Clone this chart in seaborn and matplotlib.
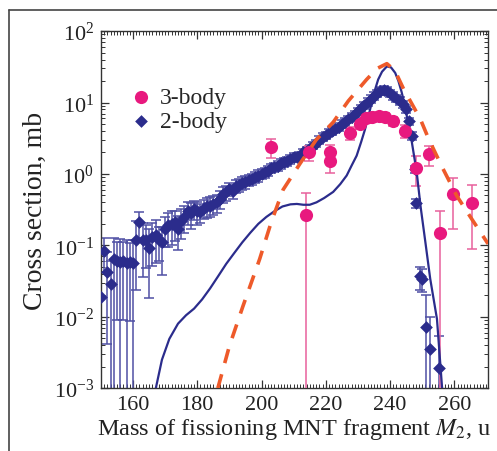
import numpy as np
import pandas as pd
import matplotlib
matplotlib.use("Agg")
import matplotlib.pyplot as plt
import seaborn as sns
from matplotlib.lines import Line2D
from matplotlib.ticker import LogLocator, MultipleLocator, NullFormatter

# ---------------- data ----------------
# 3-body (pink circles)
m3 = [203.0, 213.8, 214.8, 221.2, 221.2, 227.5, 230.5, 232.5, 234.5, 236.5, 238.5, 241.0, 244.6,
      248.2, 252.0, 255.4, 259.7, 265.5]
v3 = [2.35, 0.27, 2.0, 2.0, 1.53, 3.8, 5.0, 6.0, 6.3, 6.5, 6.2, 5.5, 4.0,
      1.23, 1.9, 0.15, 0.52, 0.39]
e3 = [0.7, 0.27, 0.5, 0.55, 0.5, 0.8, 0.8, 0.9, 0.9, 0.9, 0.9, 0.8, 0.8,
      0.55, 0.6, 0.15, 0.35, 0.3]

# 2-body (navy diamonds)
m2 = [150, 151, 152, 153, 154, 155, 156, 157, 158, 159, 160, 161, 162, 163, 164, 165, 166, 167, 168, 169,
      170, 171, 172, 173, 174, 175, 176, 177, 178, 179, 180, 181, 182, 183, 184, 185, 186, 187, 188, 189,
      190, 191, 192, 193, 194, 195, 196, 197, 198, 199, 200, 201, 202, 203, 204, 205, 206, 207, 208, 209,
      210, 211, 212, 213, 214, 215, 216, 217, 218, 219, 220, 221, 222, 223, 224, 225, 226, 227, 228, 229,
      230, 231, 232, 233, 234, 235, 236, 237, 238, 239, 240, 241, 242, 243, 244, 245, 246, 246.8, 247.8,
      248.1, 249.3, 249.8, 251.3, 252.3, 255.1]
v2 = [0.019, 0.084, 0.042, 0.029, 0.064, 0.060, 0.058, 0.060, 0.057, 0.058, 0.056, 0.12, 0.21, 0.12, 0.12,
      0.093, 0.13, 0.14, 0.12, 0.11, 0.17, 0.19, 0.20, 0.21, 0.17, 0.22, 0.25, 0.30, 0.28, 0.32, 0.30, 0.29,
      0.33, 0.35, 0.36, 0.38, 0.40, 0.45, 0.52, 0.55, 0.62, 0.58, 0.68, 0.70, 0.75, 0.78, 0.82, 0.85, 0.90,
      0.95, 1.0, 1.05, 1.1, 1.2, 1.25, 1.3, 1.4, 1.45, 1.5, 1.6, 1.7, 1.75, 1.8, 2.0, 2.1, 2.3, 2.5, 2.7,
      3.0, 3.3, 3.5, 3.8, 4.0, 4.3, 4.6, 5.0, 5.4, 5.8, 6.3, 6.9, 7.5, 8.3, 9.2, 10.2, 11.2, 12.5, 13.5,
      14.5, 15.0, 14.5, 13.5, 12.5, 11.5, 10.5, 9.5, 8.0, 5.5, 3.4, 1.17, 0.39, 0.037, 0.034, 0.0071,
      0.0035, 0.0019]
r2 = [1.2, 0.5, 0.9, 1.1, 1.0, 0.85, 1.1, 0.85, 1.1, 0.85, 1.1, 0.8, 0.4, 0.7, 0.6, 0.8, 0.6, 0.6, 0.5,
      0.65, 0.45, 0.5, 0.5, 0.45, 0.5, 0.45, 0.4, 0.35, 0.4, 0.3, 0.35, 0.3, 0.3, 0.3, 0.3, 0.3, 0.28,
      0.28, 0.25, 0.25, 0.22, 0.22, 0.2, 0.2, 0.2, 0.2, 0.18, 0.18, 0.18, 0.18, 0.16, 0.16, 0.16, 0.15,
      0.15, 0.15, 0.15, 0.14, 0.14, 0.14, 0.14, 0.13, 0.13, 0.13, 0.13, 0.12, 0.12, 0.12, 0.12, 0.12,
      0.12, 0.12, 0.12, 0.12, 0.12, 0.12, 0.12, 0.12, 0.12, 0.12, 0.12, 0.12, 0.12, 0.12, 0.12, 0.12,
      0.12, 0.12, 0.12, 0.12, 0.12, 0.12, 0.12, 0.12, 0.12, 0.12, 0.12, 0.12, 0.12, 0.15, 0.35, 0.35,
      1.8, 1.8, 1.8]

# theory, solid navy curve
ms = [167.1, 169.0, 171.3, 174.0, 176.5, 179.0, 181.5, 184.0, 186.5, 189.0, 191.5, 194.0, 196.5, 199.0,
      201.5, 204.0, 206.5, 209.0, 211.0, 213.0, 215.0, 217.1, 219.5, 222.3, 224.5, 226.5, 228.0, 229.6,
      231.0, 232.2, 233.3, 234.3, 235.3, 236.3, 237.5, 239.0, 240.3, 241.6, 242.6, 243.6, 244.5, 245.2,
      246.0, 246.8, 248.3, 249.5, 251.0, 252.5, 254.6, 256.2]
vs = [0.001, 0.0025, 0.0049, 0.0080, 0.0105, 0.0130, 0.0175, 0.025, 0.037, 0.055, 0.078, 0.11, 0.15,
      0.20, 0.25, 0.30, 0.35, 0.375, 0.38, 0.37, 0.37, 0.40, 0.46, 0.56, 0.72, 0.95, 1.3, 1.8, 2.8, 4.2,
      6.5, 10, 15, 21, 27, 32, 31, 26, 20, 14, 9.5, 6.5, 4.3, 2.75, 1.05, 0.35, 0.11, 0.034, 0.0093, 0.001]

# theory, dashed orange curve
md = [186.4, 190.0, 194.2, 199.4, 203.0, 206.7, 212.0, 217.0, 222.3, 227.0, 232.7, 236.0, 239.0, 241.5,
      244.2, 249.4, 252.0, 256.0, 260.8, 265.0, 270.5]
vd = [0.001, 0.0039, 0.014, 0.064, 0.21, 0.6, 1.4, 3.0, 5.3, 10.5, 21, 30, 35, 28, 15.5, 5.9, 3.1, 1.3,
      0.49, 0.25, 0.105]

xticks = [160, 180, 200, 220, 240, 260]

# ---------------- style ----------------
sns.set_style("ticks")
plt.rcParams['font.family'] = ['Liberation Serif', 'DejaVu Serif']
plt.rcParams['mathtext.fontset'] = 'stix'

PINK = "#E8197E"
PINK_E = "#E8609C"
NAVY = "#2B2C8C"
NAVY_E = "#4F50A4"
ORANGE = "#EE5A2A"

fig = plt.figure(figsize=(4.97, 4.52), dpi=100)
ax = fig.add_axes([0.203, 0.139, 0.779, 0.790])

df2 = pd.DataFrame({"m": m2, "v": v2, "e": np.array(v2) * np.array(r2)})
df3 = pd.DataFrame({"m": m3, "v": v3, "e": e3})
dfs = pd.DataFrame({"m": ms, "v": vs})
dfd = pd.DataFrame({"m": md, "v": vd})

ax.set_yscale("log")

# error bars
ax.errorbar(df2["m"], df2["v"], yerr=df2["e"], fmt="none", ecolor=NAVY_E, elinewidth=1.1,
            capsize=3.5, capthick=1.1, zorder=2)
ax.errorbar(df3["m"], df3["v"], yerr=df3["e"], fmt="none", ecolor=PINK_E, elinewidth=1.1,
            capsize=3.5, capthick=1.1, zorder=3)

sns.scatterplot(data=df2, x="m", y="v", marker="D", s=42, color=NAVY, edgecolor=NAVY,
                linewidth=0, ax=ax, zorder=4, label="2-body")
sns.lineplot(data=dfs, x="m", y="v", color=NAVY, lw=1.6, ax=ax, zorder=5, sort=False)
sns.scatterplot(data=df3, x="m", y="v", marker="o", s=90, color=PINK, edgecolor=PINK,
                linewidth=0, ax=ax, zorder=6, label="3-body")
sns.lineplot(data=dfd, x="m", y="v", color=ORANGE, lw=2.6, ax=ax, zorder=7, sort=False,
             dashes=(4, 3.2))

ax.set_xlim(150, 270.5)
ax.set_ylim(1e-3, 1e2)

ax.xaxis.set_major_locator(plt.FixedLocator(xticks))
ax.xaxis.set_minor_locator(MultipleLocator(1))
ax.yaxis.set_major_locator(LogLocator(base=10, numticks=10))
ax.yaxis.set_minor_locator(LogLocator(base=10, subs=np.arange(2, 10), numticks=20))
ax.yaxis.set_minor_formatter(NullFormatter())
ax.tick_params(which="both", direction="in", top=True, right=True, colors="#333333", labelcolor="#222222")
ax.tick_params(which="major", length=6, width=0.9, labelsize=16, pad=5)
ax.tick_params(which="minor", length=3, width=0.7)
for s in ax.spines.values():
    s.set_color("#333333")
    s.set_linewidth(1.0)

ax.set_xlabel("Mass of fissioning MNT fragment $M_2$, u", fontsize=17.5, labelpad=1, color="#222222")
ax.set_ylabel("Cross section, mb", fontsize=20, labelpad=4, color="#222222")

h, l = ax.get_legend_handles_labels()
order = [l.index("3-body"), l.index("2-body")]
leg = ax.legend([h[i] for i in order], [l[i] for i in order], loc="upper left",
                bbox_to_anchor=(0.045, 0.87), frameon=False, fontsize=17,
                handletextpad=0.25, handlelength=1.1, labelspacing=0.1, borderaxespad=0)

# outer panel frame (top and left lines)
fig.add_artist(Line2D([9 / 497, 9 / 497], [0, 1 - 11 / 452], transform=fig.transFigure,
                      color="#444444", lw=1.2))
fig.add_artist(Line2D([9 / 497, 1], [1 - 11 / 452, 1 - 11 / 452], transform=fig.transFigure,
                      color="#444444", lw=1.2))

fig.savefig("out.png", dpi=100)
